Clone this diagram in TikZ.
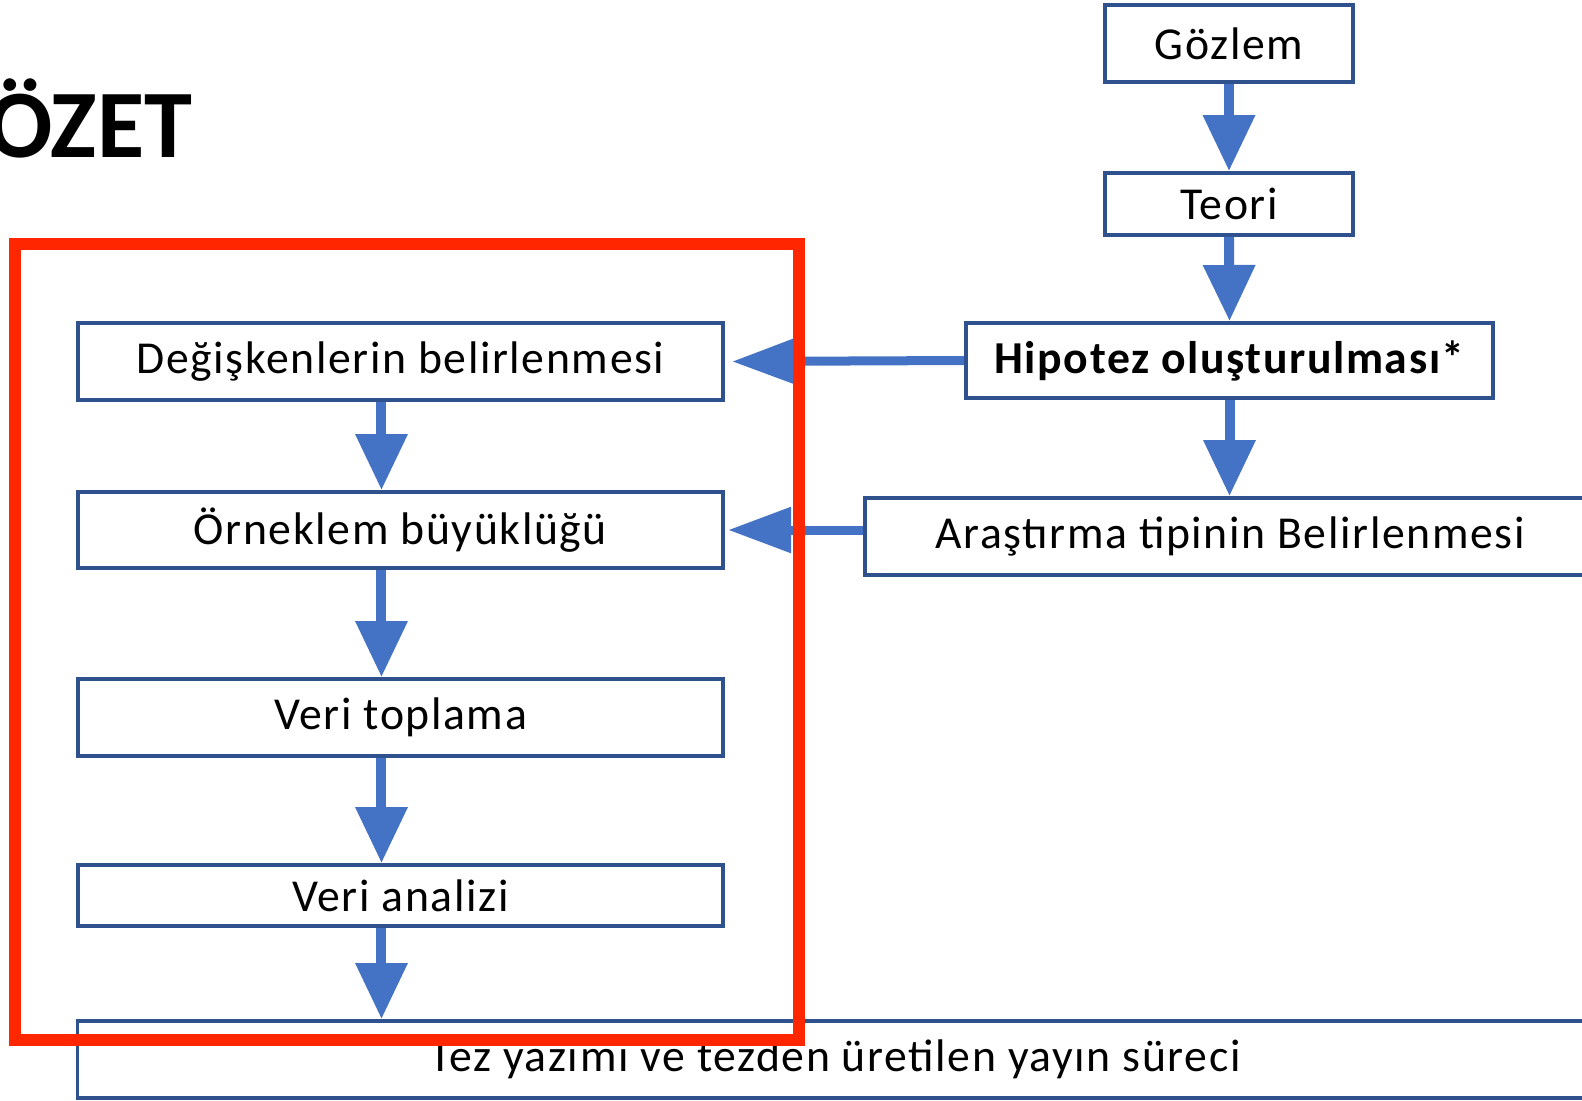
\documentclass[tikz,border=0pt]{standalone}
\usepackage{fontspec}
\setmainfont{Carlito}
\newfontfamily\kutufont[LetterSpace=3.5]{Carlito}
\usepackage{xcolor}
\definecolor{okmavi}{RGB}{68, 114, 196}
\definecolor{kutumavi}{RGB}{47, 82, 143}
\definecolor{kirmizi}{RGB}{255, 38, 0}
\usepackage{tikz}
\usetikzlibrary{positioning, arrows.meta}

\tikzset{
    kutu/.style={draw=kutumavi, line width=1.1pt, inner sep=0pt, fill=white,
        font=\kutufont\fontsize{13}{15}\selectfont},
    ok/.style={-{Triangle[length=0.56cm, width=0.5cm]}, draw=okmavi, line width=0.1cm},
    yanok/.style={-{Triangle[length=0.63cm, width=0.44cm]}, draw=okmavi, line width=0.09cm}
}

\begin{document}
\begin{tikzpicture}[x=0.01cm, y=-0.01cm]
    \clip (0,0) rectangle (1582,1100);

    % Baslik
    \node[anchor=base east, inner sep=0pt, font=\fontsize{27.5}{30}\selectfont\bfseries] (baslik) at (193,157) {ÖZET};

    % Sag sutun
    \node[kutu, minimum width=2.48cm, minimum height=0.77cm] (gozlem) at (1229,43.5) {Gözlem};
    \node[kutu, minimum width=2.48cm, minimum height=0.62cm] (teori) at (1229,204) {Teori};
    \node[kutu, minimum width=5.27cm, minimum height=0.75cm] (hipotez) at (1229.5,360.5) {\bfseries Hipotez oluşturulması*};
    \node[kutu, minimum width=7.30cm, minimum height=0.77cm] (arastirma) at (1230,536.5) {Araştırma tipinin Belirlenmesi};

    % Sol sutun
    \node[kutu, minimum width=6.45cm, minimum height=0.77cm] (degisken) at (400.5,361.5) {Değişkenlerin belirlenmesi};
    \node[kutu, minimum width=6.45cm, minimum height=0.76cm] (orneklem) at (400.5,530) {Örneklem büyüklüğü};
    \node[kutu, minimum width=6.45cm, minimum height=0.77cm] (toplama) at (400.5,717.5) {Veri toplama};
    \node[kutu, minimum width=6.45cm, minimum height=0.61cm] (analiz) at (400.5,895.5) {Veri analizi};
    \node[kutu, minimum width=15.14cm, minimum height=0.77cm] (tez) at (835,1059.5) {Tez yazımı ve tezden üretilen yayın süreci};

    % Oklar
    \draw[ok] (gozlem.south) -- (teori.north);
    \draw[ok] (teori.south) -- (hipotez.north);
    \draw[ok] (hipotez.south) -- (hipotez.south |- arastirma.north);
    \draw[yanok] (hipotez.west) -- ([xshift=0.07cm]degisken.east);
    \draw[yanok] (arastirma.west |- orneklem.east) -- ([xshift=0.03cm]orneklem.east);
    \foreach \ust/\alt in {degisken/orneklem, orneklem/toplama, toplama/analiz, analiz/tez} {
        \draw[ok] ([xshift=-0.19cm]\ust.south) -- ([xshift=-0.19cm]\ust.south |- \alt.north);
    }

    % Kirmizi cerceve
    \draw[kirmizi, line width=0.12cm] (15,244) rectangle (799,1040);
\end{tikzpicture}
\end{document}
